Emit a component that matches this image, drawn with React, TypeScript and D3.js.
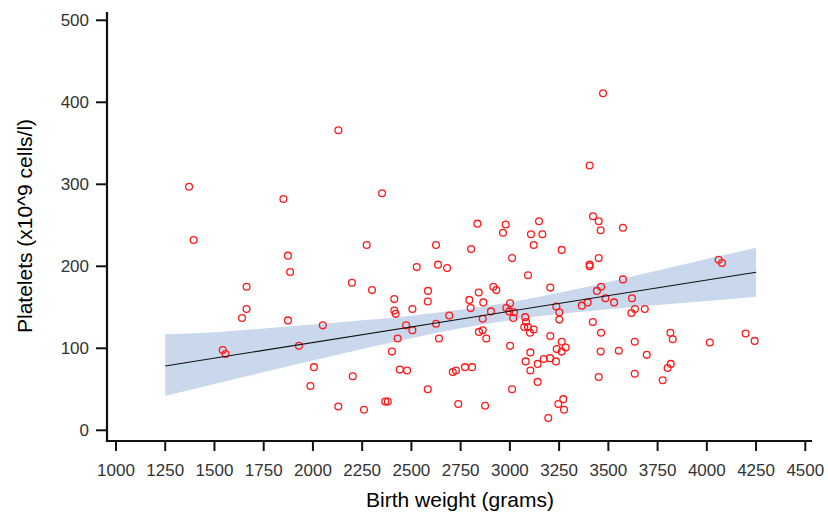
import React from "react";
import * as d3 from "d3";

// Birth weight (grams) of each infant
const birthWeight: number[] = [
  1371, 1394, 1542, 1556, 1640, 1663, 1663, 2129, 1850, 1873,
  1884, 2198, 1873, 2050, 1929, 2005, 1987, 2129, 2202, 2351,
  2273, 2835, 2979, 2965, 3148, 3107, 3165, 3121, 2625, 2803,
  3263, 3011, 2527, 2635, 2681, 3092, 3473, 3405, 3422, 3451,
  3461, 3574, 3451, 3405, 3405, 3574, 4060, 4077, 3463, 3442,
  3485, 3529, 3620, 3395, 3365, 3635, 3617, 3685, 3251, 3251,
  3421, 3463, 3815, 3827, 4015, 4197, 4243, 3634, 3263, 3283,
  3263, 3461, 3553, 3695, 3817, 3801, 3451, 3634, 3776, 3271,
  3275, 2300, 2413, 2584, 2583, 2413, 2420, 2505, 2473, 2505,
  2625, 2692, 2430, 2640, 2401, 2441, 2478, 2583, 2259, 2367,
  2380, 2738, 2874, 2710, 2726, 2772, 2808, 2794, 2842, 2865,
  2801, 2916, 2931, 2904, 2862, 2843, 2862, 2880, 2982, 3001,
  2997, 3021, 3017, 3205, 3236, 3078, 3082, 3073, 3092, 3121,
  3102, 3001, 3205, 3238, 3104, 3080, 3104, 3141, 3172, 3204,
  3234, 3141, 3011, 3195, 3246,
];

// Platelet count (x10^9 cells/l) of each infant
const platelets: number[] = [
  297, 232, 98, 93, 137, 148, 175, 366, 282, 213,
  193, 180, 134, 128, 103, 77, 54, 29, 66, 289,
  226, 252, 251, 241, 255, 239, 239, 226, 226, 221,
  220, 210, 199, 202, 198, 189, 411, 323, 261, 255,
  244, 247, 210, 202, 200, 184, 208, 204, 175, 170,
  161, 156, 161, 156, 152, 148, 143, 148, 144, 135,
  132, 119, 119, 111, 107, 118, 109, 108, 108, 101,
  96, 96, 97, 92, 81, 76, 65, 69, 61, 38,
  25, 171, 160, 170, 157, 146, 142, 148, 128, 122,
  130, 140, 112, 112, 96, 74, 73, 50, 25, 35,
  35, 32, 30, 71, 73, 77, 77, 159, 168, 156,
  149, 175, 171, 145, 136, 120, 122, 112, 149, 155,
  145, 144, 137, 174, 151, 138, 132, 126, 126, 123,
  119, 103, 115, 99, 95, 84, 73, 81, 87, 88,
  84, 59, 50, 15, 32,
];

// Fitted regression line (end points)
const fitX: number[] = [1250, 4250];
const fitY: number[] = [78.5, 192.8];

// 95% confidence band of the mean
const bandX: number[] = [1250, 1500, 1750, 2000, 2250, 2500, 2750, 3000, 3250, 3500, 3750, 4000, 4250];
const bandUpper: number[] = [117, 119.6, 124.2, 129.0, 134.1, 139.8, 146.9, 156.1, 167.7, 180.8, 194.8, 209.0, 222.7];
const bandLower: number[] = [42, 56.4, 71.0, 85.2, 99.1, 112.4, 124.5, 134.3, 141.7, 147.6, 152.8, 157.6, 163];

const xTicks: number[] = [1000, 1250, 1500, 1750, 2000, 2250, 2500, 2750, 3000, 3250, 3500, 3750, 4000, 4250, 4500];
const yTicks: number[] = [0, 100, 200, 300, 400, 500];

const xTitle = "Birth weight (grams)";
const yTitle = "Platelets (x10^9 cells/l)";

export default function App() {
  const W = 828;
  const H = 519;
  const x = d3.scaleLinear().domain([1000, 4500]).range([116, 805.3]);
  const y = d3.scaleLinear().domain([0, 500]).range([430.3, 20.3]);

  const axisX0 = 107;
  const axisY0 = 441;

  const bandData = bandX.map((bx, i) => ({ x: bx, lo: bandLower[i], hi: bandUpper[i] }));
  const area = d3
    .area<{ x: number; lo: number; hi: number }>()
    .x((d) => x(d.x))
    .y0((d) => y(d.lo))
    .y1((d) => y(d.hi))
    .curve(d3.curveMonotoneX);
  const line = d3
    .line<number>()
    .x((d) => x(d))
    .y((_, i) => y(fitY[i]));

  const font = "'Liberation Sans', Arial, sans-serif";

  return (
    <svg
      width={W}
      height={H}
      style={{ position: "absolute", left: 0, top: 0, background: "#fff" }}
      fontFamily={font}
    >
      <rect x={0} y={0} width={W} height={H} fill="#fff" />
      <path d={area(bandData) || ""} fill="#c9d8ec" />
      {birthWeight.map((bw, i) => (
        <circle
          key={i}
          cx={x(bw)}
          cy={y(platelets[i])}
          r={3.4}
          fill="none"
          stroke="#ff1a1a"
          strokeWidth={1.3}
        />
      ))}
      <path d={line(fitX) || ""} fill="none" stroke="#111" strokeWidth={1.1} />

      {/* Y axis */}
      <line x1={axisX0} x2={axisX0} y1={12} y2={axisY0 + 1} stroke="#111" strokeWidth={2.2} />
      {yTicks.map((t) => (
        <g key={t}>
          <line x1={96} x2={axisX0} y1={y(t)} y2={y(t)} stroke="#111" strokeWidth={2} />
          <text x={89} y={y(t)} dy="0.35em" textAnchor="end" fontSize={17} fill="#333">
            {t}
          </text>
        </g>
      ))}

      {/* X axis */}
      <line x1={axisX0 - 1} x2={812} y1={axisY0} y2={axisY0} stroke="#111" strokeWidth={2.2} />
      {xTicks.map((t) => (
        <g key={t}>
          <line x1={x(t)} x2={x(t)} y1={axisY0} y2={451} stroke="#111" strokeWidth={2} />
          <text x={x(t)} y={476} textAnchor="middle" fontSize={17} fill="#333">
            {t}
          </text>
        </g>
      ))}

      <text x={460} y={507} textAnchor="middle" fontSize={21} fill="#000">
        {xTitle}
      </text>
      <text
        transform={`translate(32, 226) rotate(-90)`}
        textAnchor="middle"
        fontSize={21}
        fill="#000"
      >
        {yTitle}
      </text>
    </svg>
  );
}
